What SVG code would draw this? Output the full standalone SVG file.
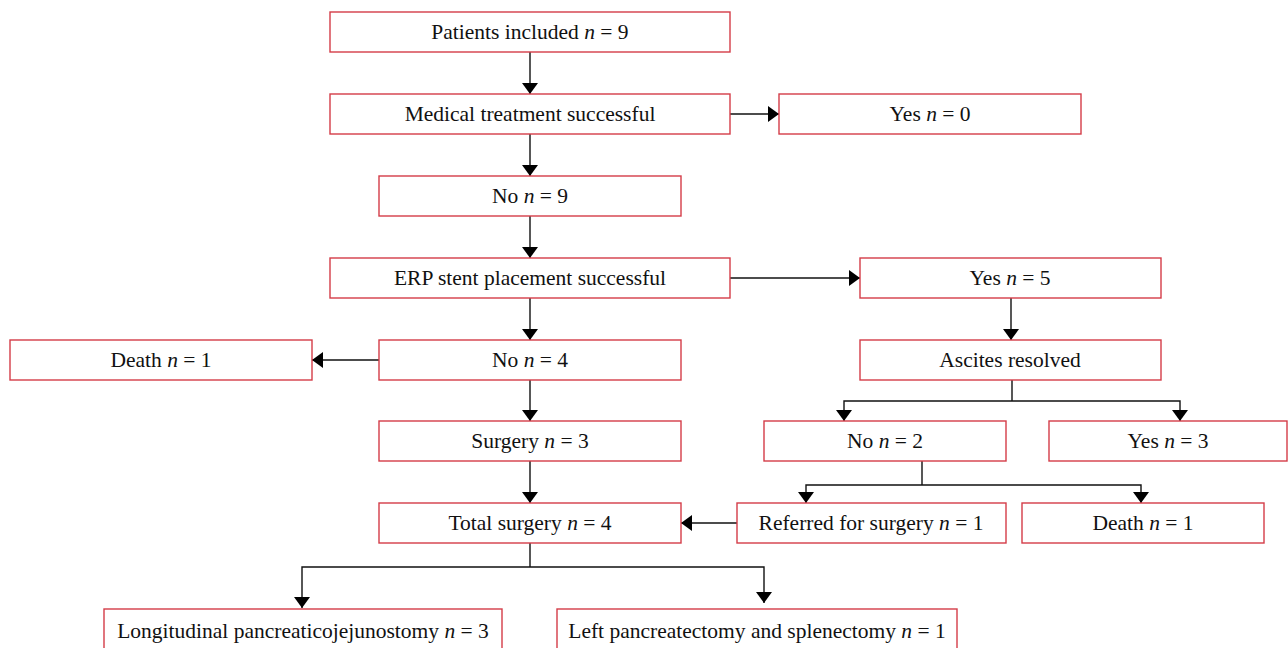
<svg xmlns="http://www.w3.org/2000/svg" width="1288" height="648" viewBox="0 0 1288 648">
<defs>
<style>
.box{fill:#fff;stroke:#d43c48;stroke-width:1.4}
.t{font-family:"Liberation Serif","Times New Roman",serif;font-size:21.5px;fill:#111;text-anchor:middle}
.c{fill:none;stroke:#111;stroke-width:1.4}
</style>
<marker id="ah" viewBox="0 0 11 16" refX="11" refY="8" markerUnits="userSpaceOnUse" markerWidth="11" markerHeight="16" orient="auto">
<path d="M0,0 L11,8 L0,16 Z" fill="#000"/>
</marker>
</defs>
<rect width="1288" height="648" fill="#fff"/>
<g id="connectors">
<line class="c" x1="530" y1="52" x2="530" y2="94" marker-end="url(#ah)"/>
<line class="c" x1="730" y1="114" x2="779" y2="114" marker-end="url(#ah)"/>
<line class="c" x1="530" y1="134" x2="530" y2="176" marker-end="url(#ah)"/>
<line class="c" x1="530" y1="216" x2="530" y2="258" marker-end="url(#ah)"/>
<line class="c" x1="730" y1="278" x2="860" y2="278" marker-end="url(#ah)"/>
<line class="c" x1="530" y1="298" x2="530" y2="340" marker-end="url(#ah)"/>
<line class="c" x1="1011" y1="298" x2="1011" y2="340" marker-end="url(#ah)"/>
<line class="c" x1="379" y1="360" x2="312" y2="360" marker-end="url(#ah)"/>
<line class="c" x1="530" y1="380" x2="530" y2="421" marker-end="url(#ah)"/>
<polyline class="c" points="1012,380 1012,401"/>
<polyline class="c" points="1012,401 844,401 844,421" marker-end="url(#ah)"/>
<polyline class="c" points="1012,401 1180,401 1180,421" marker-end="url(#ah)"/>
<line class="c" x1="530" y1="461" x2="530" y2="503" marker-end="url(#ah)"/>
<polyline class="c" points="922,461 922,485"/>
<polyline class="c" points="922,485 806,485 806,503" marker-end="url(#ah)"/>
<polyline class="c" points="922,485 1141,485 1141,503" marker-end="url(#ah)"/>
<line class="c" x1="737" y1="523" x2="681" y2="523" marker-end="url(#ah)"/>
<polyline class="c" points="530,543 530,567"/>
<polyline class="c" points="530,567 302,567 302,608" marker-end="url(#ah)"/>
<polyline class="c" points="530,567 764,567 764,603" marker-end="url(#ah)"/>
</g>
<g id="n1"><rect class="box" x="330" y="12" width="400" height="40"/><text class="t" x="530" y="39">Patients included <tspan font-style="italic">n</tspan> = 9</text></g>
<g id="n2"><rect class="box" x="330" y="94" width="400" height="40"/><text class="t" x="530" y="121">Medical treatment successful</text></g>
<g id="n3"><rect class="box" x="779" y="94" width="302" height="40"/><text class="t" x="930" y="121">Yes <tspan font-style="italic">n</tspan> = 0</text></g>
<g id="n4"><rect class="box" x="379" y="176" width="302" height="40"/><text class="t" x="530" y="203">No <tspan font-style="italic">n</tspan> = 9</text></g>
<g id="n5"><rect class="box" x="330" y="258" width="400" height="40"/><text class="t" x="530" y="285">ERP stent placement successful</text></g>
<g id="n6"><rect class="box" x="860" y="258" width="301" height="40"/><text class="t" x="1010" y="285">Yes <tspan font-style="italic">n</tspan> = 5</text></g>
<g id="n7"><rect class="box" x="10" y="340" width="302" height="40"/><text class="t" x="161" y="367">Death <tspan font-style="italic">n</tspan> = 1</text></g>
<g id="n8"><rect class="box" x="379" y="340" width="302" height="40"/><text class="t" x="530" y="367">No <tspan font-style="italic">n</tspan> = 4</text></g>
<g id="n9"><rect class="box" x="860" y="340" width="301" height="40"/><text class="t" x="1010" y="367">Ascites resolved</text></g>
<g id="n10"><rect class="box" x="379" y="421" width="302" height="40"/><text class="t" x="530" y="448">Surgery <tspan font-style="italic">n</tspan> = 3</text></g>
<g id="n11"><rect class="box" x="764" y="421" width="242" height="40"/><text class="t" x="885" y="448">No <tspan font-style="italic">n</tspan> = 2</text></g>
<g id="n12"><rect class="box" x="1049" y="421" width="238" height="40"/><text class="t" x="1168" y="448">Yes <tspan font-style="italic">n</tspan> = 3</text></g>
<g id="n13"><rect class="box" x="379" y="503" width="302" height="40"/><text class="t" x="530" y="530">Total surgery <tspan font-style="italic">n</tspan> = 4</text></g>
<g id="n14"><rect class="box" x="737" y="503" width="269" height="40"/><text class="t" x="871" y="530">Referred for surgery <tspan font-style="italic">n</tspan> = 1</text></g>
<g id="n15"><rect class="box" x="1022" y="503" width="242" height="40"/><text class="t" x="1143" y="530">Death <tspan font-style="italic">n</tspan> = 1</text></g>
<g id="n16"><rect class="box" x="104" y="609" width="398" height="40"/><text class="t" x="303" y="638">Longitudinal pancreaticojejunostomy <tspan font-style="italic">n</tspan> = 3</text></g>
<g id="n17"><rect class="box" x="557" y="609" width="400" height="40"/><text class="t" x="757" y="638">Left pancreatectomy and splenectomy <tspan font-style="italic">n</tspan> = 1</text></g>
</svg>
